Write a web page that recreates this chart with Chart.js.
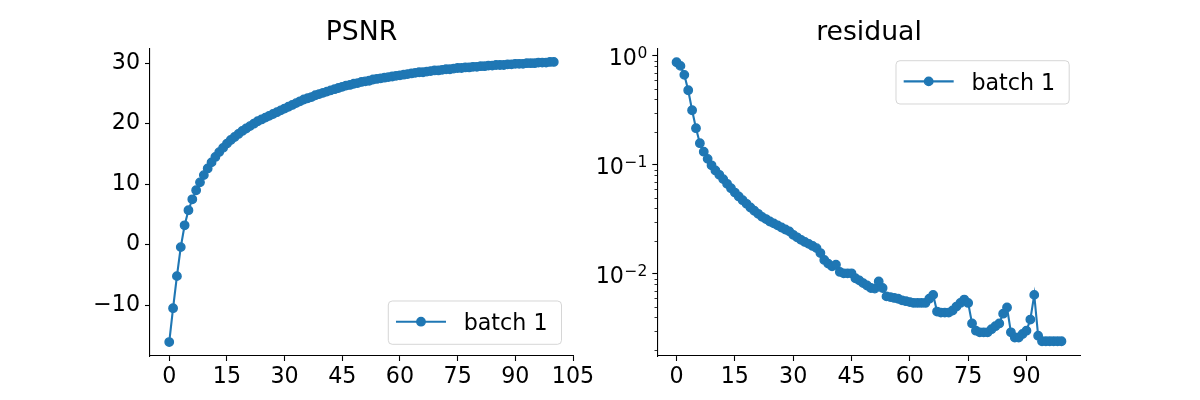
<!DOCTYPE html>
<html><head><meta charset="utf-8">
<script src="https://cdn.jsdelivr.net/npm/chart.js@4"></script>
<style>
html,body{margin:0;padding:0;background:#fff;}
#wrap{position:relative;width:1200px;height:400px;background:#fff;}
#wrap canvas{position:absolute;left:0;top:0;}
</style></head><body>
<div id="wrap">
<canvas id="c1" width="1200" height="400"></canvas>
<canvas id="c2" width="1200" height="400"></canvas>
</div>
<script>
// ---- data ----
const psnrIterations = [...Array(101).keys()];
const psnrValues = [
 -16.1,-10.5,-5.2,-0.4,3.2,5.7,7.5,9.0,10.3,11.5,
 12.6,13.6,14.5,15.3,16.0,16.7,17.3,17.8,18.3,18.8,
 19.2,19.6,20.0,20.4,20.7,21.0,21.3,21.6,21.9,22.2,
 22.5,22.8,23.1,23.4,23.7,24.0,24.2,24.4,24.7,24.9,
 25.1,25.3,25.5,25.7,25.9,26.1,26.3,26.4,26.6,26.7,
 26.9,27.0,27.1,27.3,27.4,27.5,27.6,27.7,27.8,27.9,
 28.0,28.1,28.2,28.3,28.4,28.5,28.5,28.6,28.7,28.8,
 28.8,28.9,29.0,29.0,29.1,29.2,29.2,29.3,29.3,29.4,
 29.4,29.5,29.5,29.6,29.6,29.7,29.7,29.7,29.8,29.8,
 29.9,29.9,29.9,30.0,30.0,30.0,30.1,30.1,30.1,30.2,
 30.2];
const residualIterations = [...Array(100).keys()];
const residualValues = [
 0.875,0.81,0.67,0.484,0.317,0.217,0.158,0.132,0.1135,0.099,
 0.0887,0.081,0.074,0.067,0.061,0.0557,0.0512,0.0474,0.0439,0.0406,
 0.0379,0.0355,0.0333,0.0318,0.0302,0.029,0.0278,0.0266,0.0255,0.0245,
 0.0228,0.0216,0.0205,0.0196,0.0188,0.0180,0.0172,0.0155,0.0134,0.0124,
 0.0117,0.0121,0.0104,0.0101,0.0101,0.0101,0.0091,0.0087,0.0082,0.0078,
 0.0074,0.0073,0.0085,0.0074,0.0062,0.0061,0.0060,0.0059,0.0057,0.0056,
 0.0055,0.0054,0.0054,0.0054,0.0054,0.0059,0.0064,0.0045,0.0044,0.0044,
 0.0044,0.0046,0.0050,0.0054,0.0058,0.0054,0.0035,0.0030,0.0029,0.0029,
 0.0029,0.0031,0.0033,0.0035,0.0043,0.0049,0.0029,0.0026,0.0026,0.0028,
 0.0030,0.0038,0.0064,0.0027,0.0024,0.0024,0.0024,0.0024,0.0024,0.0024];
const psnrXTicks = [0,15,30,45,60,75,90,105];
const psnrYTicks = [-10,0,10,20,30];
const residualXTicks = [0,15,30,45,60,75,90];
const residualYTicks = [0.01,0.1,1];
const residualYExponents = ['\u22122','\u22121','0'];
const seriesLabel = 'batch 1';
const chartTitles = ['PSNR','residual'];

// ---- styling ----
const FONT = 'DejaVu Sans';
const BLUE = '#1f77b4';
Chart.defaults.font.family = FONT;
Chart.defaults.color = '#000';

function pts(xs, ys){ return xs.map((x,i)=>({x:x,y:ys[i]})); }

const legendPlugin = {
  id: 'mplLegend',
  afterDatasetsDraw(chart, args, opts) {
    const ctx = chart.ctx, a = chart.chartArea;
    const ds = chart.data.datasets[0];
    ctx.save();
    ctx.font = '22.2px "' + FONT + '"';
    const tw = ctx.measureText(ds.label).width;
    const w = 75.4 + tw + 14, h = 43.3;
    const x = a.right - 11.5 - w;
    const y = opts.loc === 'lower right' ? a.bottom - 11.7 - h : a.top + 12.4;
    const r = 4;
    ctx.beginPath();
    ctx.moveTo(x + r, y);
    ctx.arcTo(x + w, y, x + w, y + h, r);
    ctx.arcTo(x + w, y + h, x, y + h, r);
    ctx.arcTo(x, y + h, x, y, r);
    ctx.arcTo(x, y, x + w, y, r);
    ctx.closePath();
    ctx.fillStyle = 'rgba(255,255,255,0.8)';
    ctx.fill();
    ctx.strokeStyle = 'rgba(204,204,204,0.8)';
    ctx.lineWidth = 1;
    ctx.stroke();
    const ly = y + 20.7;
    ctx.beginPath();
    ctx.moveTo(x + 7.7, ly);
    ctx.lineTo(x + 57.7, ly);
    ctx.strokeStyle = ds.borderColor;
    ctx.lineWidth = ds.borderWidth;
    ctx.stroke();
    ctx.beginPath();
    ctx.arc(x + 32.7, ly, ds.pointRadius, 0, Math.PI * 2);
    ctx.fillStyle = ds.pointBackgroundColor;
    ctx.fill();
    ctx.lineWidth = ds.pointBorderWidth;
    ctx.strokeStyle = ds.pointBorderColor;
    ctx.stroke();
    ctx.fillStyle = '#000';
    ctx.textBaseline = 'alphabetic';
    ctx.textAlign = 'left';
    ctx.fillText(ds.label, x + 75.4, y + 29);
    ctx.restore();
  }
};

// minor ticks and power-of-ten labels for the log axis
const logAxisExtras = {
  id: 'logAxisExtras',
  afterDraw(chart, args, opts) {
    if (!opts.enabled) return;
    const s = chart.scales.y, ctx = chart.ctx;
    ctx.save();
    ctx.strokeStyle = '#000';
    ctx.lineWidth = 0.8;
    for (let e = -3; e <= 0; e++) {
      for (let m = 2; m <= 9; m++) {
        const v = m * Math.pow(10, e);
        if (v < s.min || v > s.max) continue;
        const p = Math.round(s.getPixelForValue(v)) + 0.5;
        ctx.beginPath();
        ctx.moveTo(s.right, p);
        ctx.lineTo(s.right - 2.8, p);
        ctx.stroke();
      }
    }
    ctx.fillStyle = '#000';
    ctx.textBaseline = 'alphabetic';
    ctx.textAlign = 'left';
    const mainFont = '22.2px "' + FONT + '"';
    const supFont = '15.5px "' + FONT + '"';
    opts.ticks.forEach((v, i) => {
      const p = s.getPixelForValue(v);
      ctx.font = mainFont;
      const wMain = ctx.measureText('10').width;
      ctx.font = supFont;
      const wSup = ctx.measureText(opts.exps[i]).width;
      const x0 = s.right - 10 - wMain - 0.5 - wSup;
      ctx.font = mainFont;
      ctx.fillText('10', x0, p + 9);
      ctx.font = supFont;
      ctx.fillText(opts.exps[i], x0 + wMain + 0.5, p + 2);
    });
    ctx.restore();
  }
};

function dataset(data) {
  return {
    label: seriesLabel, data: data,
    borderColor: BLUE, backgroundColor: BLUE,
    pointBackgroundColor: BLUE, pointBorderColor: BLUE,
    borderWidth: 2.1, pointRadius: 4.2, pointBorderWidth: 1.4,
    pointHoverRadius: 4.2, tension: 0, showLine: true, clip: false
  };
}

function axisGrid() {
  return { display: true, drawOnChartArea: false, drawTicks: true, tickLength: 5, tickColor: '#000', tickWidth: 1.1 };
}

function makeChart(id, cfg) {
  return new Chart(document.getElementById(id), {
    type: 'scatter',
    data: { datasets: [dataset(cfg.data)] },
    plugins: [legendPlugin, logAxisExtras],
    options: {
      responsive: false, animation: false, devicePixelRatio: 1,
      layout: { padding: { left: 0, right: cfg.padRight, top: 0, bottom: 0 } },
      plugins: {
        legend: { display: false },
        tooltip: { enabled: false },
        title: { display: true, text: cfg.title, fullSize: false, color: '#000',
                 font: { size: 26.7, weight: 'normal', family: FONT, lineHeight: 1.0 },
                 padding: { top: 19.5, bottom: 2.1 } },
        mplLegend: { loc: cfg.legendLoc },
        logAxisExtras: { enabled: cfg.log, ticks: cfg.yticks, exps: residualYExponents }
      },
      scales: {
        x: {
          type: 'linear', min: cfg.xmin, max: cfg.xmax,
          border: { display: true, color: '#000', width: 1.1 },
          grid: axisGrid(),
          ticks: { font: { size: 22.2 }, color: '#000', maxRotation: 0, autoSkip: false, padding: 3 },
          afterBuildTicks: (s) => { s.ticks = cfg.xticks.map(v => ({ value: v })); },
          afterFit: (s) => { s.height = 44; }
        },
        y: {
          type: cfg.log ? 'logarithmic' : 'linear', min: cfg.ymin, max: cfg.ymax,
          border: { display: true, color: '#000', width: 1.1 },
          grid: axisGrid(),
          ticks: { display: !cfg.log, font: { size: 22.2 }, color: '#000', autoSkip: false, padding: 5,
                   callback: (v) => (v < 0 ? '\u2212' + Math.abs(v) : String(v)) },
          afterBuildTicks: (s) => { s.ticks = cfg.yticks.map(v => ({ value: v })); },
          afterFit: (s) => { s.width = cfg.yWidth; }
        }
      }
    }
  });
}

makeChart('c1', {
  data: pts(psnrIterations, psnrValues), title: chartTitles[0],
  xmin: -5, xmax: 105, ymin: -18.4, ymax: 32.46,
  xticks: psnrXTicks, yticks: psnrYTicks, log: false,
  yWidth: 150, padRight: 627, legendLoc: 'lower right'
});
makeChart('c2', {
  data: pts(residualIterations, residualValues), title: chartTitles[1],
  xmin: -4.95, xmax: 103.95, ymin: 0.001758, ymax: 1.175,
  xticks: residualXTicks, yticks: residualYTicks, log: true,
  yWidth: 657.3, padRight: 119.3, legendLoc: 'upper right'
});
</script>
</body></html>
